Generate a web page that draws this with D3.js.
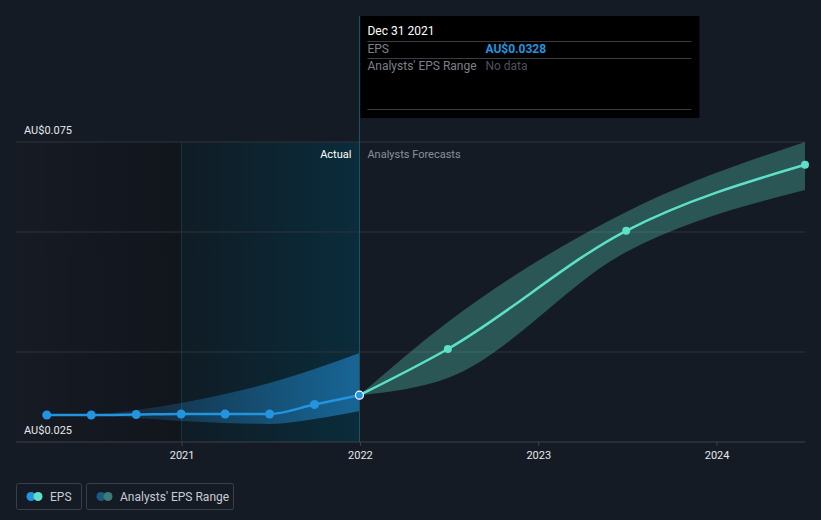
<!DOCTYPE html>
<html>
<head>
<meta charset="utf-8">
<script src="https://cdn.jsdelivr.net/npm/d3@7.9.0/dist/d3.min.js"></script>
<style>
  html, body { margin: 0; padding: 0; background: #151b25; }
  svg { display: block; font-family: Roboto, "Noto Sans", sans-serif; }
</style>
</head>
<body>
<div id="chart"></div>
<script>
// EPS history (actual)
const epsDates = ['2020-03-31', '2020-06-30', '2020-09-30', '2020-12-31', '2021-03-31', '2021-06-30', '2021-09-30', '2021-12-31'];
const epsValues = [0.0295, 0.0295, 0.02958, 0.02967, 0.02967, 0.02967, 0.03125, 0.0328];

// analysts forecast
const fcDates = ['2021-12-31', '2022-06-30', '2023-06-30', '2024-06-30'];
const fcValues = [0.0328, 0.0405, 0.0602, 0.0712];
const fcLow = [0.0328, 0.03567, 0.05667, 0.067];
const fcHigh = [0.0328, 0.045, 0.06333, 0.075];

// past range band
const pastRangeDates = ['2020-06-30', '2020-09-30', '2020-12-31', '2021-03-31', '2021-06-30', '2021-09-30', '2021-12-31'];
const pastLow = [0.0295, 0.0290, 0.0285, 0.02817, 0.0280, 0.02883, 0.03017];
const pastHigh = [0.0295, 0.03033, 0.0315, 0.033, 0.03483, 0.03717, 0.03983];

const yTicks = [0.025, 0.04, 0.06, 0.075];
const yLabels = ['AU$0.025', 'AU$0.075'];
const xTicks = ['2021-01-01', '2022-01-01', '2023-01-01', '2024-01-01'];

const parse = d3.timeParse('%Y-%m-%d');
const width = 821, height = 520;

const svg = d3.select('#chart').append('svg')
  .attr('width', width)
  .attr('height', height);

const x = d3.scaleTime()
  .domain([parse('2020-01-28'), parse('2024-06-30')])
  .range([16, 805]);

const y = d3.scaleLinear()
  .domain([0.025, 0.075])
  .range([442, 142]);

const defs = svg.append('defs');

const gLeft = defs.append('linearGradient').attr('id', 'bgLeft');
gLeft.append('stop').attr('offset', '0%').attr('stop-color', '#161b24');
gLeft.append('stop').attr('offset', '100%').attr('stop-color', '#11151c');

const gPast = defs.append('linearGradient').attr('id', 'bgPast');
gPast.append('stop').attr('offset', '0%').attr('stop-color', '#0f1c25');
gPast.append('stop').attr('offset', '100%').attr('stop-color', '#0a2c3b');

const gBand = defs.append('linearGradient').attr('id', 'pastBand');
gBand.append('stop').attr('offset', '0%').attr('stop-color', '#2394df').attr('stop-opacity', 0.1);
gBand.append('stop').attr('offset', '100%').attr('stop-color', '#2394df').attr('stop-opacity', 0.55);

const xStart = x.range()[0];
const x2021 = x(parse('2021-01-01'));
const xNow = x(parse('2021-12-31'));

// background regions
svg.append('rect')
  .attr('x', xStart).attr('y', 142)
  .attr('width', x2021 - xStart).attr('height', 300)
  .attr('fill', 'url(#bgLeft)');

svg.append('rect')
  .attr('x', x2021).attr('y', 142)
  .attr('width', xNow - x2021).attr('height', 300)
  .attr('fill', 'url(#bgPast)');

svg.append('line')
  .attr('x1', x2021).attr('x2', x2021)
  .attr('y1', 142).attr('y2', 442)
  .attr('stroke', '#173640').attr('stroke-width', 1);

// grid lines
svg.selectAll('.grid')
  .data(yTicks)
  .join('line')
  .attr('class', 'grid')
  .attr('x1', 16).attr('x2', 805)
  .attr('y1', d => y(d)).attr('y2', d => y(d))
  .attr('stroke', d => d === 0.025 ? '#3c414b' : '#2e333c')
  .attr('stroke-width', 1);

// y labels
svg.selectAll('.ylab')
  .data(yLabels)
  .join('text')
  .attr('class', 'ylab')
  .attr('x', 24)
  .attr('y', (d, i) => y(i === 0 ? 0.025 : 0.075) - 8)
  .attr('fill', '#e6e8eb')
  .attr('font-size', 11)
  .text(d => d);

// x axis
const xAxis = svg.append('g')
  .attr('transform', 'translate(0,442)')
  .call(d3.axisBottom(x)
    .tickValues(xTicks.map(parse))
    .tickFormat(d3.timeFormat('%Y'))
    .tickSize(4)
    .tickPadding(5));
xAxis.select('.domain').remove();
xAxis.selectAll('.tick line').attr('stroke', '#3c414b');
xAxis.selectAll('.tick text').attr('fill', '#e6e8eb').attr('font-size', 11)
  .attr('font-family', 'Roboto, "Noto Sans", sans-serif');

// past range band
const pastBand = pastRangeDates.map((d, i) => ({ date: parse(d), lo: pastLow[i], hi: pastHigh[i] }));
svg.append('path')
  .datum(pastBand)
  .attr('fill', 'url(#pastBand)')
  .attr('d', d3.area()
    .curve(d3.curveMonotoneX)
    .x(d => x(d.date))
    .y0(d => y(d.lo))
    .y1(d => y(d.hi)));

// forecast band
const fc = fcDates.map((d, i) => ({ date: parse(d), v: fcValues[i], lo: fcLow[i], hi: fcHigh[i] }));
svg.append('path')
  .datum(fc)
  .attr('fill', '#5ce0c8')
  .attr('fill-opacity', 0.3)
  .attr('d', d3.area()
    .curve(d3.curveMonotoneX)
    .x(d => x(d.date))
    .y0(d => y(d.lo))
    .y1(d => y(d.hi)));

// hover line
svg.append('line')
  .attr('x1', xNow).attr('x2', xNow)
  .attr('y1', 16).attr('y2', 442)
  .attr('stroke', '#1e5566').attr('stroke-width', 1);

// Actual / Forecast labels
svg.append('text')
  .attr('x', xNow - 8).attr('y', 158)
  .attr('text-anchor', 'end')
  .attr('fill', '#ffffff')
  .attr('font-size', 11)
  .text('Actual');
svg.append('text')
  .attr('x', xNow + 8).attr('y', 158)
  .attr('fill', '#8b9099')
  .attr('font-size', 11)
  .text('Analysts Forecasts');

// lines
const line = d3.line()
  .curve(d3.curveMonotoneX)
  .x(d => x(d.date))
  .y(d => y(d.v));

const eps = epsDates.map((d, i) => ({ date: parse(d), v: epsValues[i] }));

svg.append('path')
  .datum(fc)
  .attr('fill', 'none')
  .attr('stroke', '#5ce0c8')
  .attr('stroke-width', 2.5)
  .attr('d', line);

svg.selectAll('.fcdot')
  .data(fc.slice(1))
  .join('circle')
  .attr('class', 'fcdot')
  .attr('cx', d => x(d.date))
  .attr('cy', d => y(d.v))
  .attr('r', 4)
  .attr('fill', '#5ce0c8');

svg.append('path')
  .datum(eps)
  .attr('fill', 'none')
  .attr('stroke', '#2394df')
  .attr('stroke-width', 2.5)
  .attr('d', line);

svg.selectAll('.epsdot')
  .data(eps)
  .join('circle')
  .attr('class', 'epsdot')
  .attr('cx', d => x(d.date))
  .attr('cy', d => y(d.v))
  .attr('r', (d, i) => i === eps.length - 1 ? 4 : 4.5)
  .attr('fill', '#2394df')
  .attr('stroke', (d, i) => i === eps.length - 1 ? '#ffffff' : 'none')
  .attr('stroke-width', 1.2);

// tooltip
const tip = svg.append('g').attr('transform', `translate(${xNow + 1},16)`);
tip.append('rect')
  .attr('width', 339).attr('height', 102)
  .attr('fill', '#000000');
tip.append('text')
  .attr('x', 7).attr('y', 19)
  .attr('fill', '#ffffff').attr('font-size', 12)
  .text('Dec 31 2021');
[25, 42, 93].forEach(yy => {
  tip.append('line')
    .attr('x1', 7).attr('x2', 331)
    .attr('y1', yy + 0.5).attr('y2', yy + 0.5)
    .attr('stroke', '#3a3d42');
});
tip.append('text')
  .attr('x', 7).attr('y', 37)
  .attr('fill', '#7c8087').attr('font-size', 12)
  .text('EPS');
tip.append('text')
  .attr('x', 125).attr('y', 37)
  .attr('fill', '#2394df').attr('font-size', 12).attr('font-weight', 'bold')
  .text('AU$' + epsValues[epsValues.length - 1].toFixed(4));
tip.append('text')
  .attr('x', 7).attr('y', 54)
  .attr('fill', '#7c8087').attr('font-size', 12)
  .text("Analysts' EPS Range");
tip.append('text')
  .attr('x', 125).attr('y', 54)
  .attr('fill', '#4e5258').attr('font-size', 12)
  .text('No data');

// legend
const legendItems = [
  { label: 'EPS', c1: '#2394df', c2: '#5ce0c8', x: 16, w: 65 },
  { label: "Analysts' EPS Range", c1: '#1d5a82', c2: '#3b7c77', x: 86, w: 147 }
];
const lg = svg.selectAll('.legend')
  .data(legendItems)
  .join('g')
  .attr('class', 'legend')
  .attr('transform', d => `translate(${d.x},483)`);
lg.append('rect')
  .attr('x', 0.5).attr('y', 0.5)
  .attr('width', d => d.w).attr('height', 26)
  .attr('rx', 2)
  .attr('fill', 'none')
  .attr('stroke', '#3a3f4a');
lg.append('circle').attr('cx', 15).attr('cy', 13.5).attr('r', 4.5).attr('fill', d => d.c1);
lg.append('circle').attr('cx', 22).attr('cy', 13.5).attr('r', 4.5).attr('fill', d => d.c2);
lg.append('text')
  .attr('x', 34).attr('y', 17.5)
  .attr('fill', '#c8cbd0').attr('font-size', 12)
  .text(d => d.label);
</script>
</body>
</html>
